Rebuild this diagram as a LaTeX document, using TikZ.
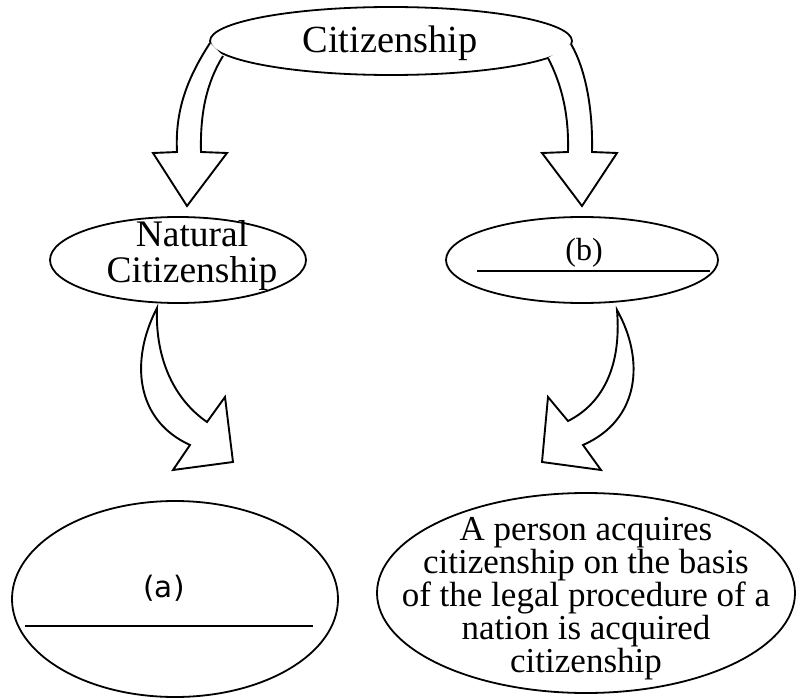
\documentclass[tikz,border=0pt]{standalone}
\usepackage{fontspec}
\setmainfont{Liberation Serif}
\newfontfamily\sansf{DejaVu Sans}
\usetikzlibrary{shapes.geometric}
\begin{document}
\begin{tikzpicture}[x=1pt,y=-1pt,
  oval/.style={ellipse,draw,line width=1.8pt,inner sep=0pt},
  blockarrow/.style={draw,line width=1.9pt,line join=miter,fill=white},
  blank/.style={line width=1.8pt},
  lbl/.style={inner sep=0pt,anchor=base,align=center}]
\useasboundingbox (0,0) rectangle (796,698);
% ellipses
\node[oval,minimum width=362pt,minimum height=68pt] (top) at (391,41) {};
\node[oval,minimum width=256pt,minimum height=86pt] (nat) at (178,260) {};
\node[oval,minimum width=272pt,minimum height=86pt] (b) at (582,260) {};
\node[oval,minimum width=326pt,minimum height=196pt] (a) at (175,599) {};
\node[oval,minimum width=418pt,minimum height=200pt] (acq) at (586,593) {};
% texts
\node[lbl,font=\fontsize{38.4}{40}\selectfont] (ttop) at (390,53) {Citizenship};
\node[lbl,font=\fontsize{37.5}{36}\selectfont] (tnat) at (192,283) {Natural\\Citizenship};
\node[lbl,font=\fontsize{32}{34}\selectfont] (tb) at (584,260) {(b)};
\node[lbl,font=\sansf\fontsize{29.5}{32}\selectfont] (ta) at (164,597) {(a)};
\node[lbl,font=\fontsize{35}{30}\selectfont] (tacq) at (586,672)
  {A person acquires\\citizenship on the basis\\of the legal procedure of a\\nation is acquired\\citizenship};
% blanks
\coordinate (bl1) at (477,271); \coordinate (bl2) at (710,271);
\draw[blank] (bl1) -- (bl2);
\coordinate (al1) at (25,626); \coordinate (al2) at (313,626);
\draw[blank] (al1) -- (al2);
% block arrows top
\draw[blockarrow] (210,43) .. controls (186,80) and (175,112) .. (177,152)
  -- (153,153) -- (187,206) -- (227,153) -- (201,152)
  .. controls (200,112) and (207,82) .. (223,56);
\draw[blockarrow] (548,58) .. controls (562,85) and (569,115) .. (568,152)
  -- (542,153) -- (582,206) -- (617,153) -- (592,152)
  .. controls (593,110) and (586,70) .. (571,44);
% curved arrows middle
\draw[blockarrow] (157,308) .. controls (130,360) and (135,420) .. (190,445)
  -- (173,470) -- (233,462) -- (225,397) -- (207,422)
  .. controls (175,400) and (155,360) .. cycle;
\draw[blockarrow] (617,310) .. controls (645,360) and (640,420) .. (583,445)
  -- (601,470) -- (542,462) -- (548,397) -- (568,421)
  .. controls (600,405) and (622,370) .. cycle;
\end{tikzpicture}
\end{document}
